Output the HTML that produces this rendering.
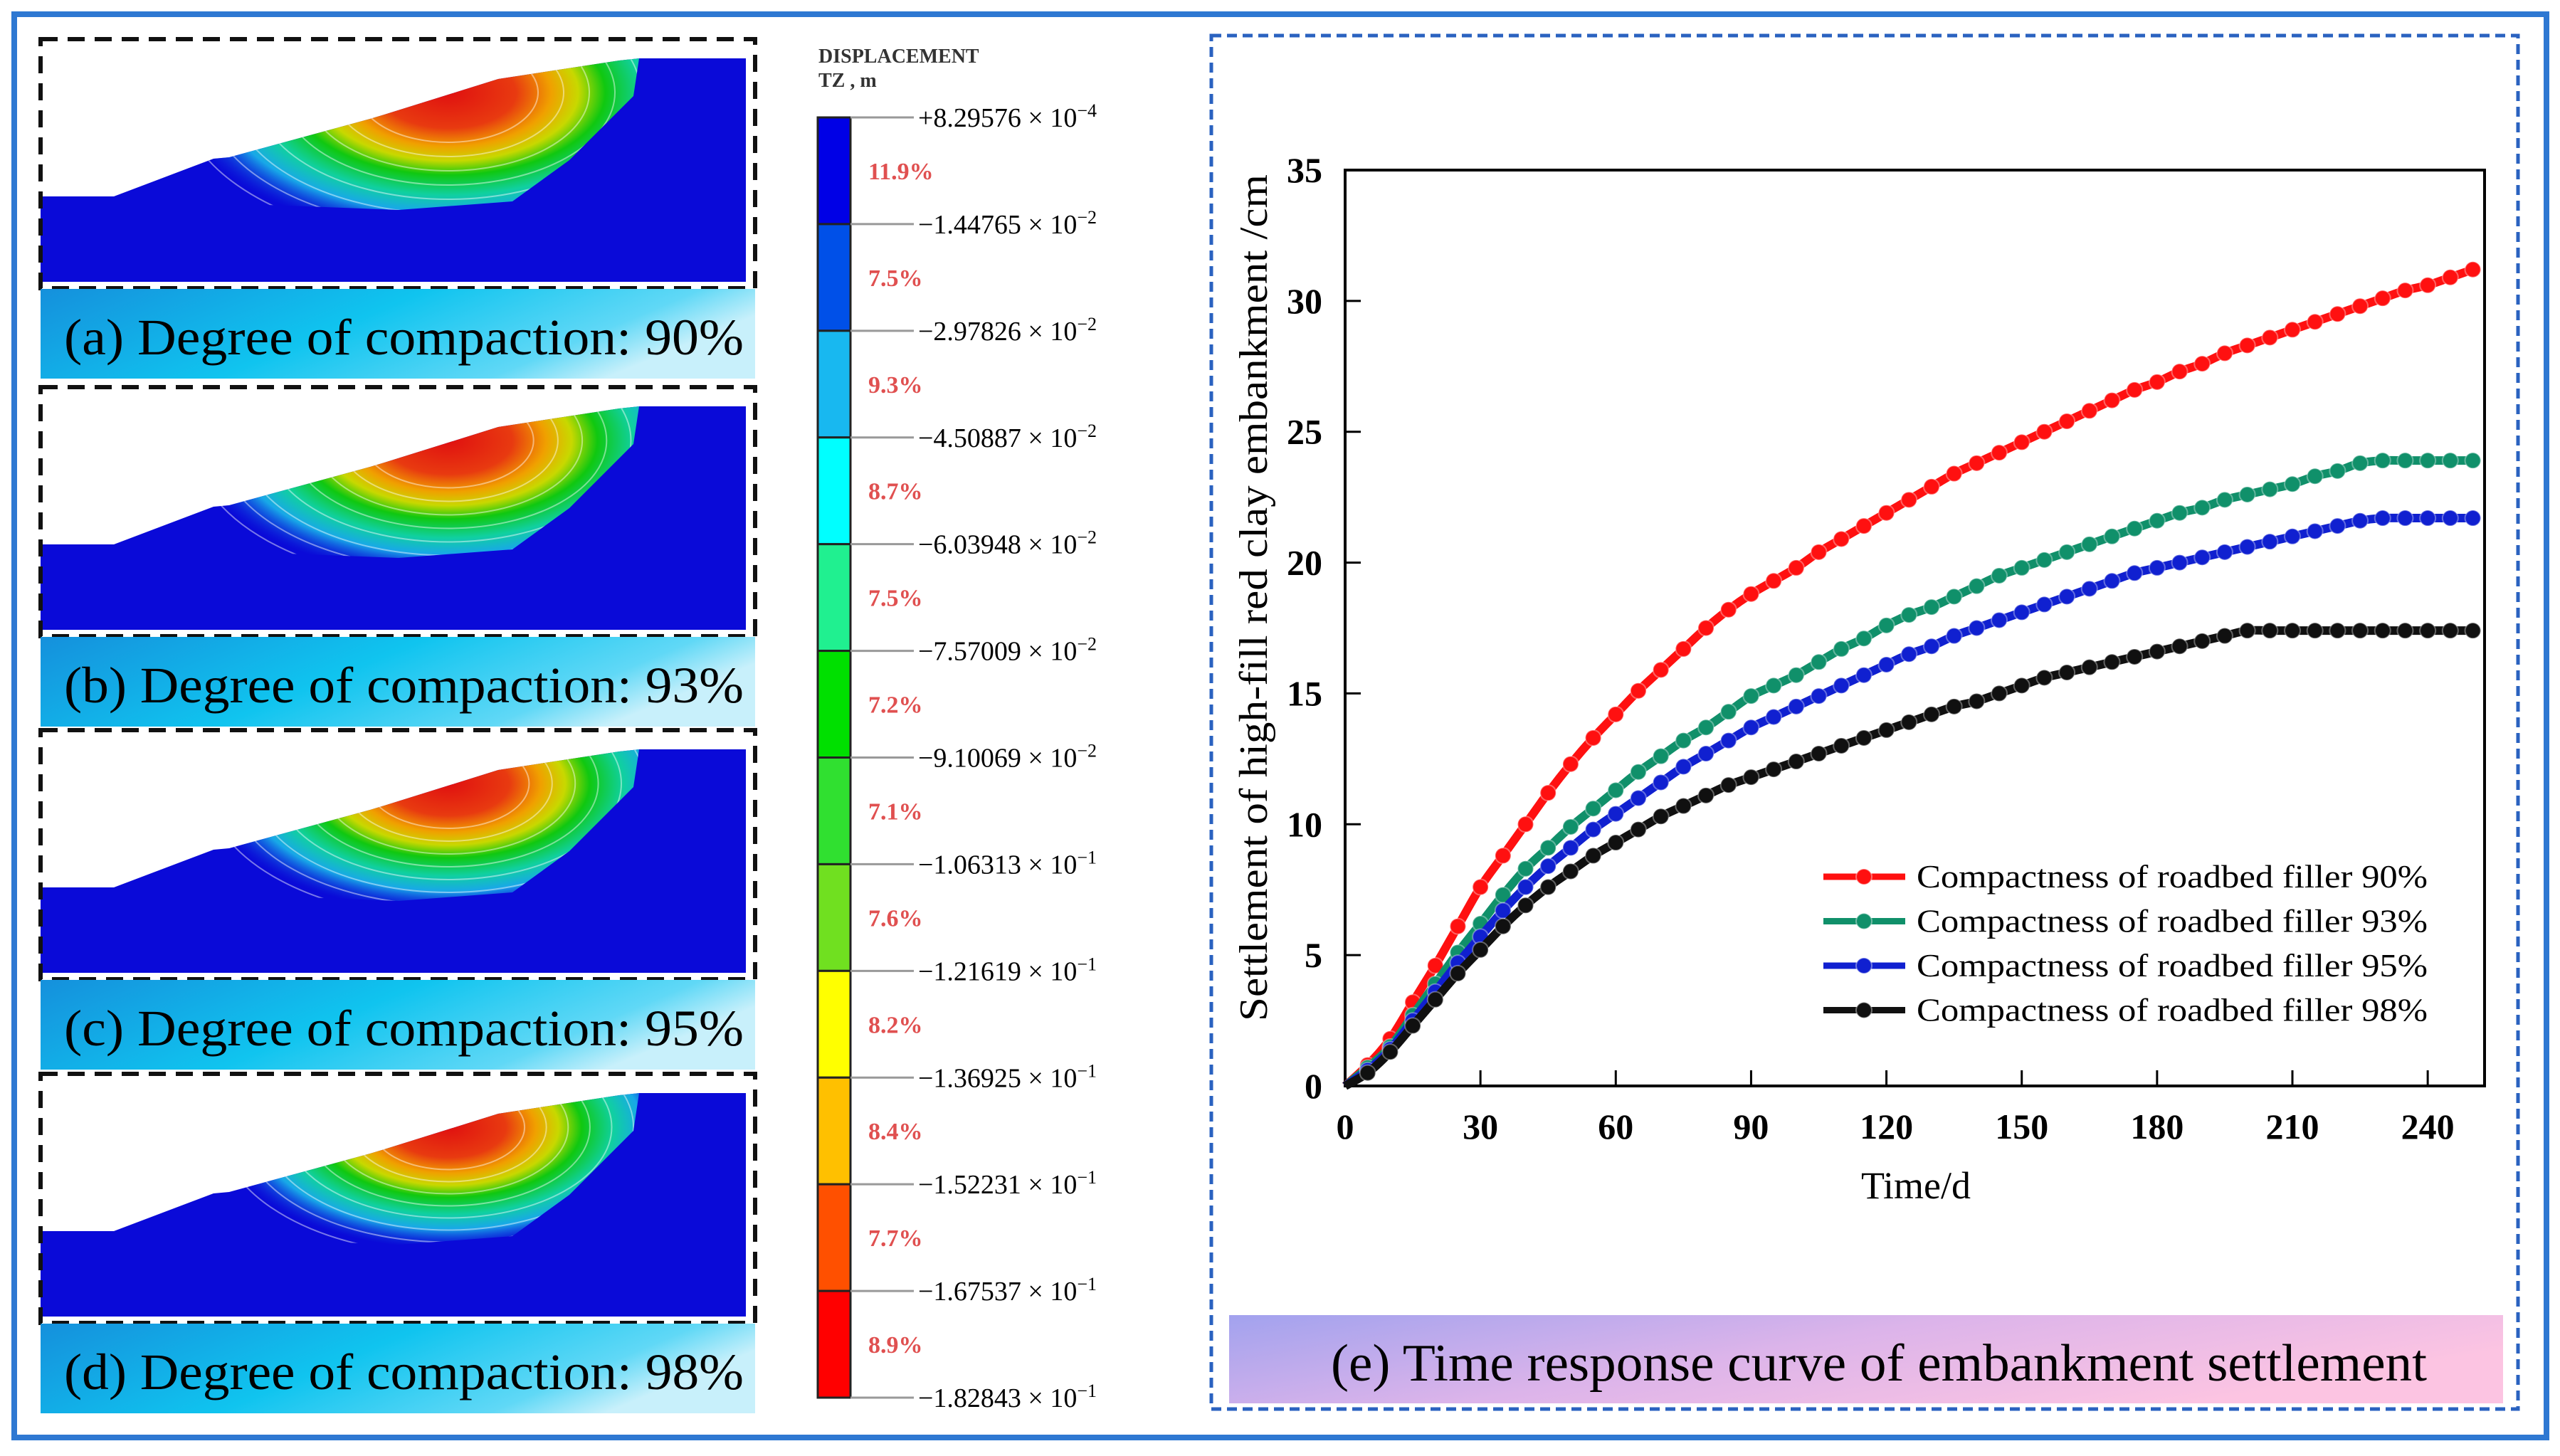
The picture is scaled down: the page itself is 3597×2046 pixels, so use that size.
<!DOCTYPE html>
<html><head><meta charset="utf-8">
<style>
html,body{margin:0;padding:0;background:#fff;}
svg{display:block;}
text{font-family:"Liberation Serif",serif;}
</style></head>
<body>
<svg id="root" width="3597" height="2046" viewBox="0 0 3597 2046" xmlns="http://www.w3.org/2000/svg">
<defs>
  <linearGradient id="capGrad" x1="0" y1="0" x2="1" y2="0.3">
    <stop offset="0" stop-color="#1590dc"/>
    <stop offset="0.5" stop-color="#10c4ef"/>
    <stop offset="0.85" stop-color="#60d8f6"/>
    <stop offset="1" stop-color="#c8f0fb"/>
  </linearGradient>
  <linearGradient id="eGrad" x1="0" y1="0" x2="1" y2="0.4">
    <stop offset="0" stop-color="#a2a2ee"/>
    <stop offset="0.5" stop-color="#dcb4ea"/>
    <stop offset="1" stop-color="#fcc4e2"/>
  </linearGradient>
  <radialGradient id="hot" cx="0.5" cy="0.5" r="0.5">
    <stop offset="0" stop-color="#e01010"/>
    <stop offset="0.25" stop-color="#e83a10"/>
    <stop offset="0.38" stop-color="#f0a000"/>
    <stop offset="0.48" stop-color="#c8d800"/>
    <stop offset="0.58" stop-color="#10c810"/>
    <stop offset="0.72" stop-color="#10d0a0"/>
    <stop offset="0.84" stop-color="#18a8e8"/>
    <stop offset="1" stop-color="#0a10d8" stop-opacity="0.3"/>
  </radialGradient>
</defs>
<rect x="20" y="20" width="3558" height="2000" fill="none" stroke="#2e78d2" stroke-width="8"/>
<g id="panels"></g>
<g id="colorbar"></g>
<rect x="1702" y="50" width="1836" height="1930" fill="none" stroke="#2a62c0" stroke-width="5" stroke-dasharray="14,8"/>
<g id="chart"></g>
<rect x="1727" y="1848" width="1790" height="124" fill="url(#eGrad)"/>
<text x="2640" y="1940" font-size="74" text-anchor="middle" textLength="1540" lengthAdjust="spacingAndGlyphs" fill="#000">(e) Time response curve of embankment settlement</text>
</svg>
<script>
const NS="http://www.w3.org/2000/svg";
function mk(tag,attrs,parent,txt){const e=document.createElementNS(NS,tag);for(const k in attrs)e.setAttribute(k,attrs[k]);if(txt!==undefined)e.textContent=txt;parent.appendChild(e);return e;}

// ---------- left panels ----------
const panelLabels=["(a) Degree of compaction: 90%","(b) Degree of compaction: 93%","(c) Degree of compaction: 95%","(d) Degree of compaction: 98%"];
const panelTops=[55,544,1026,1509];
const pg=document.getElementById('panels');
panelTops.forEach((T,i)=>{
  const g=mk('g',{},pg);
  
  
  const poly=`57,${T+221} 160,${T+221} 300,${T+168} 322,${T+166} 520,${T+112} 540,${T+106} 700,${T+56} 870,${T+30} 898,${T+27} 1048,${T+27} 1048,${T+341} 57,${T+341}`;
  mk('polygon',{points:poly,fill:'#0a0ad8'},g);
  const cid='clip'+i;
  const cp=mk('clipPath',{id:cid},g);
  mk('polygon',{points:`250,${T+188} 300,${T+168} 322,${T+166} 520,${T+112} 540,${T+106} 700,${T+56} 870,${T+30} 898,${T+27} 890,${T+80} 800,${T+170} 720,${T+228} 560,${T+240} 350,${T+232}`},cp);
  const sh=1-i*0.05;
  mk('ellipse',{cx:630,cy:T+75,rx:380*sh,ry:200*sh,fill:'url(#hot)','clip-path':`url(#${cid})`},g);
  for(let k=1;k<9;k++){
    mk('ellipse',{cx:630,cy:T+75,rx:(90+k*36)*sh,ry:(50+k*20)*sh,fill:'none',stroke:'#fff','stroke-opacity':0.45,'stroke-width':2,'clip-path':`url(#${cid})`},g);
  }
  const box=mk('rect',{x:57,y:T,width:1004,height:350,fill:'none',stroke:'#111','stroke-width':6,'stroke-dasharray':'24,14'},g);
  
  
  const cap=mk('rect',{x:57,y:T+351,width:1004,height:126,fill:'url(#capGrad)'},g);
  
  
  const t=mk('text',{x:90,y:T+443,'font-size':72,textLength:955,lengthAdjust:'spacingAndGlyphs',fill:'#000'},g,panelLabels[i]);
  
  
});

// ---------- colorbar ----------
const cbColors=["#0000e6","#0050e8","#18b8f0","#00ffff","#20f090","#00e000","#30e030","#70e020","#ffff00","#ffc000","#ff5000","#ff0000"];
const cbPercents=["11.9%","7.5%","9.3%","8.7%","7.5%","7.2%","7.1%","7.6%","8.2%","8.4%","7.7%","8.9%"];
const cbMant=["+8.29576","−1.44765","−2.97826","−4.50887","−6.03948","−7.57009","−9.10069","−1.06313","−1.21619","−1.36925","−1.52231","−1.67537","−1.82843"];
const cbExp=["−4","−2","−2","−2","−2","−2","−2","−1","−1","−1","−1","−1","−1"];
const cb=document.getElementById('colorbar');
const cbTop=165, cbBot=1964, cbH=(cbBot-cbTop)/cbColors.length;
let hd=mk('text',{x:1150,y:88,'font-size':28,'font-weight':'bold',fill:'#333','font-family':'Liberation Mono, monospace'},cb,'DISPLACEMENT');


let hd2=mk('text',{x:1150,y:122,'font-size':28,'font-weight':'bold',fill:'#333','font-family':'Liberation Mono, monospace'},cb,'TZ , m');


cbColors.forEach((c,i)=>{
  const r=mk('rect',{x:1149,y:cbTop+i*cbH,width:46,height:cbH,fill:c,stroke:'#222','stroke-width':3},cb);
  
  
  const p=mk('text',{x:1220,y:cbTop+i*cbH+cbH/2+12,'font-size':34,'font-weight':'bold',fill:'#e05050','font-family':'Liberation Mono, monospace'},cb,cbPercents[i]);
  
  
});
cbMant.forEach((m,i)=>{
  const y=cbTop+i*cbH;
  mk('line',{x1:1195,y1:y,x2:1284,y2:y,stroke:'#999','stroke-width':3},cb);
  const t=mk('text',{x:1290,y:y+13,'font-size':38,fill:'#000'},cb);
  
  
  mk('tspan',{},t,m+' × 10');
  mk('tspan',{dy:-14,'font-size':26},t,cbExp[i]);
});

// ---------- chart ----------
const days=[0,5,10,15,20,25,30,35,40,45,50,55,60,65,70,75,80,85,90,95,100,105,110,115,120,125,130,135,140,145,150,155,160,165,170,175,180,185,190,195,200,205,210,215,220,225,230,235,240,245,250];
const s90=[0,0.8,1.8,3.2,4.6,6.1,7.6,8.8,10.0,11.2,12.3,13.3,14.2,15.1,15.9,16.7,17.5,18.2,18.8,19.3,19.8,20.4,20.9,21.4,21.9,22.4,22.9,23.4,23.8,24.2,24.6,25.0,25.4,25.8,26.2,26.6,26.9,27.3,27.6,28.0,28.3,28.6,28.9,29.2,29.5,29.8,30.1,30.4,30.6,30.9,31.2];
const s93=[0,0.7,1.5,2.7,3.9,5.1,6.2,7.3,8.3,9.1,9.9,10.6,11.3,12.0,12.6,13.2,13.7,14.3,14.9,15.3,15.7,16.2,16.7,17.1,17.6,18.0,18.3,18.7,19.1,19.5,19.8,20.1,20.4,20.7,21.0,21.3,21.6,21.9,22.1,22.4,22.6,22.8,23.0,23.3,23.5,23.8,23.9,23.9,23.9,23.9,23.9];
const s95=[0,0.6,1.4,2.5,3.6,4.7,5.7,6.7,7.6,8.4,9.1,9.8,10.4,11.0,11.6,12.2,12.7,13.2,13.7,14.1,14.5,14.9,15.3,15.7,16.1,16.5,16.8,17.2,17.5,17.8,18.1,18.4,18.7,19.0,19.3,19.6,19.8,20.0,20.2,20.4,20.6,20.8,21.0,21.2,21.4,21.6,21.7,21.7,21.7,21.7,21.7];
const s98=[0,0.5,1.3,2.3,3.3,4.3,5.2,6.1,6.9,7.6,8.2,8.8,9.3,9.8,10.3,10.7,11.1,11.5,11.8,12.1,12.4,12.7,13.0,13.3,13.6,13.9,14.2,14.5,14.7,15.0,15.3,15.6,15.8,16.0,16.2,16.4,16.6,16.8,17.0,17.2,17.4,17.4,17.4,17.4,17.4,17.4,17.4,17.4,17.4,17.4,17.4];
const seriesNames=["Compactness of roadbed filler 90%","Compactness of roadbed filler 93%","Compactness of roadbed filler 95%","Compactness of roadbed filler 98%"];
const seriesColors=["#ff1010","#10906a","#1020d0","#101010"];
const xTicks=[0,30,60,90,120,150,180,210,240];
const yTicks=[0,5,10,15,20,25,30,35];

const PL=1890,PR=3491,PT=239,PB=1526,XMAX=252.6,YMAX=35;
const xs=v=>PL+v/XMAX*(PR-PL);
const ys=v=>PB-v/YMAX*(PB-PT);
const ch=document.getElementById('chart');
const frame=mk('rect',{x:PL,y:PT,width:PR-PL,height:PB-PT,fill:'none',stroke:'#000','stroke-width':4},ch);


xTicks.forEach(v=>{
  mk('line',{x1:xs(v),y1:PB,x2:xs(v),y2:PB-22,stroke:'#000','stroke-width':3},ch);
  const t=mk('text',{x:xs(v),y:PB+74,'font-size':50,'font-weight':'bold','text-anchor':'middle'},ch,String(v));
  
  
});
yTicks.forEach(v=>{
  mk('line',{x1:PL,y1:ys(v),x2:PL+22,y2:ys(v),stroke:'#000','stroke-width':3},ch);
  const t=mk('text',{x:PL-32,y:ys(v)+17,'font-size':50,'font-weight':'bold','text-anchor':'end'},ch,String(v));
  
  
});
const xt=mk('text',{x:2692,y:1684,'font-size':54,'text-anchor':'middle'},ch,'Time/d');


const yt=mk('text',{x:0,y:0,'font-size':56,'text-anchor':'middle',textLength:1190,lengthAdjust:'spacingAndGlyphs',transform:'translate(1780,840) rotate(-90)'},ch,'Settlement of  high-fill red clay embankment /cm');



function smoothPath(px,py){
  let d=`M${px[0]},${py[0]}`;
  for(let i=0;i<px.length-1;i++){
    const x0=px[Math.max(i-1,0)],y0=py[Math.max(i-1,0)],x1=px[i],y1=py[i],x2=px[i+1],y2=py[i+1],x3=px[Math.min(i+2,px.length-1)],y3=py[Math.min(i+2,px.length-1)];
    d+=` C${x1+(x2-x0)/6},${y1+(y2-y0)/6} ${x2-(x3-x1)/6},${y2-(y3-y1)/6} ${x2},${y2}`;
  }
  return d;
}
const allSeries=[s90,s93,s95,s98];
allSeries.forEach((s,k)=>{
  const g=mk('g',{},ch);
  
  
  const px=days.map(xs), py=s.map(ys);
  mk('path',{d:smoothPath(px,py),fill:'none',stroke:seriesColors[k],'stroke-width':12,'stroke-linejoin':'round'},g);
  days.forEach((d,i)=>{
    if(i===0)return;
    const c=mk('circle',{cx:xs(d),cy:ys(s[i]),r:11,fill:seriesColors[k],stroke:'#fff','stroke-opacity':0.35,'stroke-width':2},g);
    
    
  });
  const ly=1232+k*62.5;
  const lg=mk('g',{},ch);
  
  
  mk('line',{x1:2562,y1:ly,x2:2677,y2:ly,stroke:seriesColors[k],'stroke-width':9},lg);
  mk('circle',{cx:2619,cy:ly,r:11,fill:seriesColors[k],stroke:'#fff','stroke-opacity':0.4,'stroke-width':2},lg);
  mk('text',{x:2693,y:ly+15,'font-size':46,textLength:718,lengthAdjust:'spacingAndGlyphs'},lg,seriesNames[k]);
});
</script>
</body></html>
